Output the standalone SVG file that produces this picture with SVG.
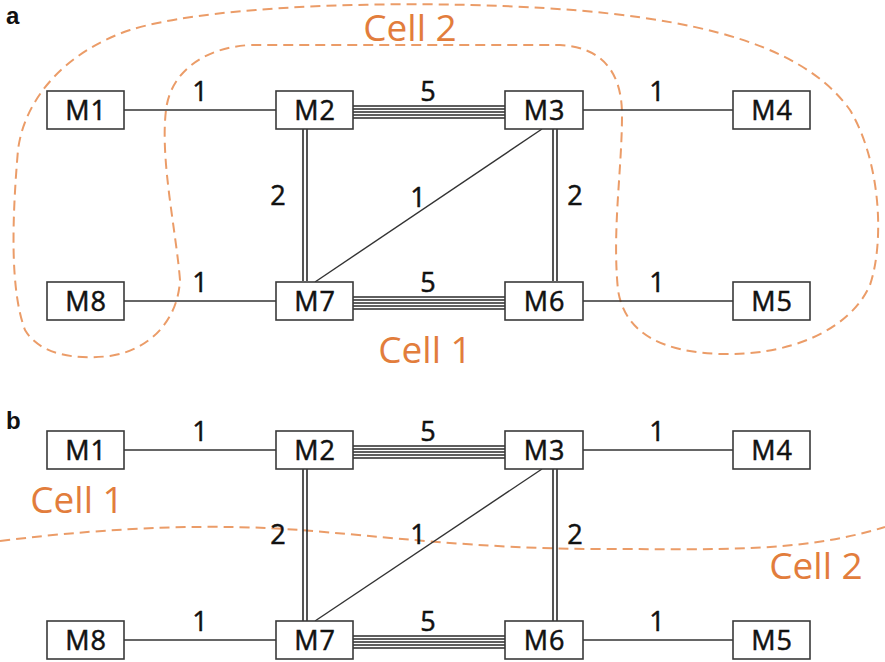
<svg xmlns="http://www.w3.org/2000/svg" width="885" height="662" viewBox="0 0 885 662">
<style>
.box{fill:#fff;stroke:#3a3a3a;stroke-width:1.6}
.lbl{font-family:"Open Sans","Liberation Sans",sans-serif;font-size:27px;letter-spacing:1px;fill:#111;stroke:#111;stroke-width:0.5;text-anchor:middle}
.num{font-family:"Open Sans","Liberation Sans",sans-serif;font-size:27px;fill:#111;stroke:#111;stroke-width:0.5;text-anchor:middle}
.cell{font-family:"Open Sans","Liberation Sans",sans-serif;font-size:37px;fill:#e27d3c;text-anchor:middle}
.pl{font-family:"Liberation Sans",Arial,sans-serif;font-size:24px;font-weight:bold;fill:#111}
.ln{stroke:#333;stroke-width:1.4;fill:none}
.bl line{stroke:#2a2a2a;stroke-width:1.6}
.dash{fill:none;stroke:#eb9c68;stroke-width:2;stroke-dasharray:10 6}
</style>
<defs>
<g id="b5" class="bl"><line x1="0" y1="-6" x2="152" y2="-6"/><line x1="0" y1="-3" x2="152" y2="-3"/><line x1="0" y1="0" x2="152" y2="0"/><line x1="0" y1="3" x2="152" y2="3"/><line x1="0" y1="6" x2="152" y2="6"/></g>
<g id="v2" class="bl"><line x1="-2" y1="0" x2="-2" y2="152"/><line x1="2" y1="0" x2="2" y2="152"/></g>
</defs>
<text class="pl" x="6" y="24">a</text>
<text class="pl" x="6" y="429">b</text>
<g id="cells">
<path class="dash" d="M180 280 C176 230 160 160 166 110 C170 75 200 48 250 45 L560 45 C600 47 622 70 622 115 C622 170 612 230 618 290 C625 335 665 352 720 354 C790 356 850 330 870 285 C885 240 880 160 850 110 C800 40 680 10 470 5 C350 2 200 8 130 30 C70 50 25 95 18 150 C12 220 10 290 25 330 C40 355 75 360 110 356 C150 350 178 320 180 280 Z"/>
<path class="dash" d="M0 541 C120 526 220 524 300 530 S480 549 600 549 S800 553 885 527"/>
<text class="cell" x="410" y="41">Cell 2</text>
<text class="cell" x="425" y="363">Cell 1</text>
<text class="cell" x="77" y="513">Cell 1</text>
<text class="cell" x="816" y="579">Cell 2</text>
</g>
<g id="connectors" class="ln">
<line x1="124" y1="110" x2="276" y2="110"/>
<line x1="583" y1="110" x2="733" y2="110"/>
<line x1="124" y1="301" x2="276" y2="301"/>
<line x1="583" y1="301" x2="733" y2="301"/>
<use href="#b5" x="353" y="112"/>
<use href="#b5" x="353" y="303"/>
<use href="#v2" x="305" y="129"/>
<use href="#v2" x="555" y="129"/>
<line x1="315" y1="282" x2="542" y2="129"/>
<line x1="124" y1="450" x2="276" y2="450"/>
<line x1="583" y1="450" x2="733" y2="450"/>
<line x1="124" y1="640" x2="276" y2="640"/>
<line x1="583" y1="640" x2="733" y2="640"/>
<use href="#b5" x="353" y="452"/>
<use href="#b5" x="353" y="642"/>
<use href="#v2" x="305" y="469"/>
<use href="#v2" x="555" y="469"/>
<line x1="315" y1="621" x2="542" y2="469"/>
</g>
<g id="labels">
<text class="num" x="200" y="101">1</text>
<text class="num" x="428" y="101">5</text>
<text class="num" x="657" y="101">1</text>
<text class="num" x="278" y="205">2</text>
<text class="num" x="418" y="207">1</text>
<text class="num" x="575" y="205">2</text>
<text class="num" x="200" y="292">1</text>
<text class="num" x="428" y="292">5</text>
<text class="num" x="657" y="292">1</text>
<text class="num" x="200" y="441">1</text>
<text class="num" x="428" y="441">5</text>
<text class="num" x="657" y="441">1</text>
<text class="num" x="278" y="544">2</text>
<text class="num" x="418" y="544">1</text>
<text class="num" x="575" y="544">2</text>
<text class="num" x="200" y="631">1</text>
<text class="num" x="428" y="631">5</text>
<text class="num" x="657" y="631">1</text>
</g>
<g id="a-M1"><rect class="box" x="47" y="91" width="77" height="38"/><text class="lbl" x="86" y="120">M1</text></g>
<g id="a-M2"><rect class="box" x="276" y="91" width="77" height="38"/><text class="lbl" x="315" y="120">M2</text></g>
<g id="a-M3"><rect class="box" x="505" y="91" width="78" height="38"/><text class="lbl" x="544.5" y="120">M3</text></g>
<g id="a-M4"><rect class="box" x="733" y="91" width="77" height="38"/><text class="lbl" x="772" y="120">M4</text></g>
<g id="a-M8"><rect class="box" x="47" y="282" width="77" height="38"/><text class="lbl" x="86" y="311">M8</text></g>
<g id="a-M7"><rect class="box" x="276" y="282" width="77" height="38"/><text class="lbl" x="315" y="311">M7</text></g>
<g id="a-M6"><rect class="box" x="505" y="282" width="78" height="38"/><text class="lbl" x="544.5" y="311">M6</text></g>
<g id="a-M5"><rect class="box" x="733" y="282" width="77" height="38"/><text class="lbl" x="772" y="311">M5</text></g>
<g id="b-M1"><rect class="box" x="47" y="431" width="77" height="38"/><text class="lbl" x="86" y="460">M1</text></g>
<g id="b-M2"><rect class="box" x="276" y="431" width="77" height="38"/><text class="lbl" x="315" y="460">M2</text></g>
<g id="b-M3"><rect class="box" x="505" y="431" width="78" height="38"/><text class="lbl" x="544.5" y="460">M3</text></g>
<g id="b-M4"><rect class="box" x="733" y="431" width="77" height="38"/><text class="lbl" x="772" y="460">M4</text></g>
<g id="b-M8"><rect class="box" x="47" y="621" width="77" height="38"/><text class="lbl" x="86" y="650">M8</text></g>
<g id="b-M7"><rect class="box" x="276" y="621" width="77" height="38"/><text class="lbl" x="315" y="650">M7</text></g>
<g id="b-M6"><rect class="box" x="505" y="621" width="78" height="38"/><text class="lbl" x="544.5" y="650">M6</text></g>
<g id="b-M5"><rect class="box" x="733" y="621" width="77" height="38"/><text class="lbl" x="772" y="650">M5</text></g>
</svg>
